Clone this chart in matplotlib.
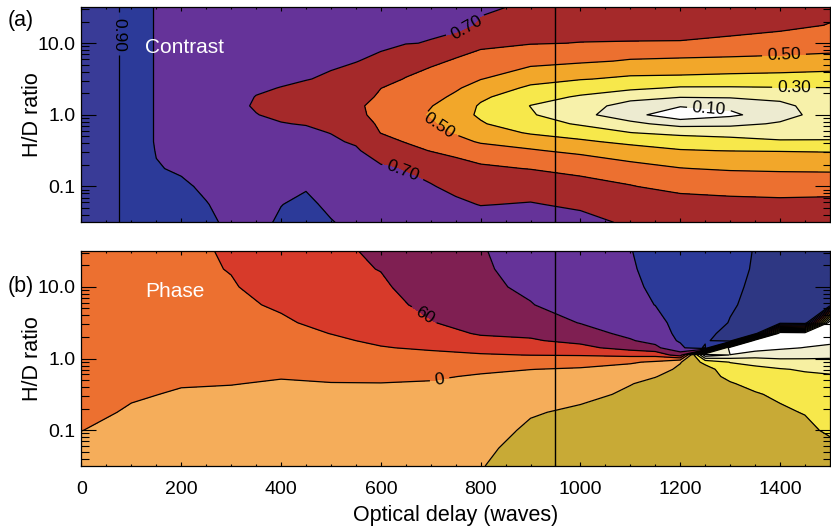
import numpy as np
import matplotlib.pyplot as plt
from matplotlib.ticker import MultipleLocator, LogLocator, FuncFormatter, NullFormatter

plt.rcParams['font.family'] = ['Liberation Sans', 'DejaVu Sans']
plt.rcParams['contour.negative_linestyle'] = 'solid'

# ---- panel (a): fringe contrast ----
# grid columns = optical delay (waves), rows = log10(H/D ratio)
delay_a = [0, 50, 100, 150, 200, 250, 300, 350, 400, 450, 500, 550, 600, 650,
           700, 750, 800, 900, 1000, 1100, 1200, 1300, 1400, 1500]
logratio_a = [-1.5, -1.25, -1.0, -0.75, -0.5, -0.375, -0.25, -0.125, 0.0,
              0.125, 0.25, 0.375, 0.5, 0.75, 1.0, 1.25, 1.5]
# one list per delay column, bottom (low ratio) to top
contrast_cols = [
    [0.95] * 17,
    [0.92] * 17,
    [0.88] * 17,
    [0.82, 0.815, 0.81, 0.805, 0.795, 0.79, 0.79, 0.79, 0.79, 0.79, 0.79, 0.79, 0.79, 0.79, 0.79, 0.79, 0.79],
    [0.82, 0.815, 0.81, 0.79, 0.78, 0.78, 0.78, 0.78, 0.78, 0.78, 0.78, 0.78, 0.78, 0.78, 0.78, 0.78, 0.78],
    [0.81, 0.802, 0.79, 0.78, 0.77, 0.765, 0.76, 0.755, 0.75, 0.75, 0.75, 0.755, 0.76, 0.77, 0.775, 0.78, 0.78],
    [0.79, 0.785, 0.775, 0.76, 0.75, 0.745, 0.74, 0.73, 0.725, 0.72, 0.725, 0.73, 0.74, 0.75, 0.76, 0.765, 0.77],
    [0.79, 0.785, 0.775, 0.76, 0.745, 0.738, 0.73, 0.72, 0.702, 0.693, 0.698, 0.71, 0.725, 0.74, 0.75, 0.76, 0.765],
    [0.805, 0.799, 0.79, 0.77, 0.745, 0.735, 0.72, 0.703, 0.686, 0.667, 0.68, 0.698, 0.715, 0.735, 0.75, 0.76, 0.765],
    [0.82, 0.81, 0.795, 0.77, 0.745, 0.73, 0.715, 0.696, 0.675, 0.656, 0.665, 0.685, 0.703, 0.725, 0.74, 0.75, 0.755],
    [0.802, 0.79, 0.775, 0.755, 0.735, 0.712, 0.698, 0.68, 0.66, 0.645, 0.655, 0.672, 0.69, 0.715, 0.73, 0.74, 0.745],
    [0.79, 0.78, 0.765, 0.74, 0.71, 0.69, 0.666, 0.64, 0.618, 0.612, 0.63, 0.648, 0.668, 0.703, 0.72, 0.735, 0.74],
    [0.77, 0.75, 0.73, 0.71, 0.658, 0.628, 0.598, 0.587, 0.577, 0.578, 0.589, 0.601, 0.628, 0.678, 0.725, 0.735, 0.75],
    [0.76, 0.74, 0.715, 0.695, 0.624, 0.596, 0.578, 0.558, 0.535, 0.543, 0.562, 0.578, 0.596, 0.65, 0.703, 0.725, 0.74],
    [0.75, 0.73, 0.707, 0.655, 0.597, 0.565, 0.535, 0.51, 0.49, 0.504, 0.526, 0.548, 0.57, 0.62, 0.697, 0.715, 0.73],
    [0.74, 0.715, 0.675, 0.625, 0.58, 0.53, 0.49, 0.465, 0.435, 0.453, 0.485, 0.512, 0.538, 0.59, 0.667, 0.73, 0.74],
    [0.73, 0.697, 0.655, 0.615, 0.54, 0.49, 0.45, 0.408, 0.387, 0.39, 0.418, 0.46, 0.503, 0.565, 0.625, 0.685, 0.72],
    [0.72, 0.705, 0.655, 0.597, 0.51, 0.45, 0.39, 0.345, 0.31, 0.298, 0.335, 0.383, 0.437, 0.535, 0.605, 0.65, 0.68],
    [0.72, 0.686, 0.633, 0.568, 0.475, 0.415, 0.352, 0.288, 0.228, 0.245, 0.29, 0.348, 0.405, 0.515, 0.598, 0.64, 0.67],
    [0.69, 0.645, 0.605, 0.53, 0.436, 0.378, 0.302, 0.222, 0.14, 0.16, 0.237, 0.32, 0.385, 0.492, 0.596, 0.64, 0.665],
    [0.68, 0.635, 0.57, 0.503, 0.405, 0.36, 0.27, 0.165, 0.02, 0.11, 0.205, 0.29, 0.382, 0.485, 0.595, 0.64, 0.665],
    [0.67, 0.625, 0.56, 0.49, 0.398, 0.335, 0.26, 0.175, 0.08, 0.125, 0.21, 0.29, 0.375, 0.48, 0.585, 0.63, 0.66],
    [0.665, 0.62, 0.555, 0.485, 0.395, 0.31, 0.255, 0.21, 0.16, 0.175, 0.228, 0.295, 0.37, 0.475, 0.57, 0.62, 0.65],
    [0.66, 0.625, 0.555, 0.482, 0.39, 0.305, 0.28, 0.265, 0.25, 0.255, 0.272, 0.298, 0.36, 0.47, 0.55, 0.597, 0.625],
]
contrast_levels = [0.0, 0.1, 0.2, 0.3, 0.4, 0.5, 0.6, 0.7, 0.8, 0.9, 1.0]
contrast_labelled = [0.1, 0.3, 0.5, 0.7, 0.9]
contrast_plain = [0.2, 0.4, 0.6, 0.8]
contrast_colors = ['#ffffff', '#edebd1', '#f7f1aa', '#f7e84b', '#f2a72a',
                   '#ec7030', '#a5292a', '#653399', '#2c3a99', '#393b97']

# ---- panel (b): fringe phase (degrees) ----
delay_b = [0, 100, 200, 300, 400, 500, 600, 700, 800, 900, 1000, 1100, 1150,
           1200, 1250, 1300, 1350, 1400, 1450, 1500]
logratio_b = [-1.5, -1.25, -1.0, -0.75, -0.5, -0.35, -0.25, -0.15, -0.05,
              0.05, 0.15, 0.25, 0.35, 0.5, 0.75, 1.0, 1.25, 1.5]
phase_cols = [
    [-10, -5, 0.3, 5, 9, 11, 12, 13, 14, 15, 16, 17, 18, 19, 21, 23, 25, 27],
    [-15, -11, -6, -2, 2.5, 5.5, 7.5, 9, 10.5, 12, 13.5, 15, 16, 17.5, 20, 22.5, 24, 25.5],
    [-18, -14, -10, -6, -2, 1.5, 4, 6, 8, 10, 12, 14, 15.5, 17.5, 20.5, 23, 24.5, 26],
    [-20, -16, -12, -7.5, -2.5, 0.5, 3, 5.5, 8, 10.5, 13, 15, 17, 20, 24.5, 28.5, 31, 32],
    [-22, -18, -13, -8, -4, -1.5, 1, 4.5, 8, 11.5, 15, 18.5, 22, 27, 33.5, 38, 41.5, 44],
    [-22, -18, -14, -9, -4.5, -0.6, 3.5, 8, 12.5, 17, 21.5, 26, 30.4, 36, 43, 48, 52, 55],
    [-22, -18, -14, -9, -4.5, -0.5, 5, 11, 17, 23, 28.8, 34, 38, 43, 50, 56, 61, 64],
    [-22, -18, -14, -9.5, -5, -1.8, 3, 10, 17.5, 25.5, 33, 40, 47.5, 58.5, 68, 74, 78, 81],
    [-29, -26, -22, -17, -10, -6, -2.5, 5, 15, 28, 40, 52, 63, 72, 80, 84, 86.5, 88],
    [-40, -37, -33, -28, -18, -11, -6, 0.3, 15, 30.5, 44, 57, 66, 76, 89, 95, 99, 102],
    [-48, -45, -41, -34, -23, -15, -9, -2.5, 10, 32, 52, 68, 80, 91, 101, 106, 110, 113],
    [-52, -50, -47, -42, -34, -29, -20, -9, 3, 38, 72, 88, 96, 103, 110, 114, 117, 119],
    [-54, -52, -50, -46, -40, -36, -29, -16, -4, 40, 84, 98, 104, 110, 120.5, 125, 128, 130],
    [-56, -55, -53, -50, -46, -43, -40, -36, -28, 75, 112, 124, 128, 131, 133, 134, 135, 135],
    [-56, -55, -54, -53, -52, -51, -50, -48, -68, -170, 155, 145, 142, 140, 138, 138, 138, 138],
    [-56, -56, -56, -55, -55, -58, -66, -78, -91, -149, -175, 170, 160, 151, 147, 145, 143, 142.5],
    [-56, -56, -56, -56, -58, -67, -74, -82, -100, -135, -165, -178, 172, 163, 157, 154, 152, 151],
    [-55, -55, -55, -57, -64, -77, -82, -88, -110, -133, -155, -170, -178, 170, 164, 160, 158, 156],
    [-55, -55, -56, -61, -74, -80, -85, -93, -112, -130, -149, -163, -172, 177, 170, 165, 162, 160],
    [-54, -56, -63, -72, -79, -83, -87, -97, -112, -128, -145, -156, -168, -176, 174, 169, 166, 164],
]
phase_levels = [-180, -150, -120, -90, -60, -30, 0, 30, 60, 90, 120, 150, 180]
phase_labelled = [0, 60]
phase_plain = [-150, -120, -90, -60, -30, 30, 90, 120, 150]
phase_colors = ['#ffffff', '#f1eecf', '#f7f0a2', '#f7e84b', '#c8aa36', '#f5ad5a',
                '#ec7030', '#d73a2a', '#7f1f52', '#653399', '#2c3a99', '#2e3783']

marker_delay = 950

fig = plt.figure(figsize=(8.31, 5.28), dpi=100)
ax1 = fig.add_axes([0.098, 0.579, 0.9007, 0.407])
ax2 = fig.add_axes([0.098, 0.1174, 0.9007, 0.407])


def style(ax):
    ax.set_yscale('log')
    ax.set_xlim(0, 1500)
    ax.set_ylim(10 ** -1.5, 10 ** 1.5)
    ax.xaxis.set_major_locator(MultipleLocator(200))
    ax.xaxis.set_minor_locator(MultipleLocator(50))
    ax.yaxis.set_major_locator(LogLocator(base=10, numticks=10))
    ax.yaxis.set_minor_locator(LogLocator(base=10, subs=np.arange(2, 10), numticks=10))
    ax.yaxis.set_major_formatter(FuncFormatter(lambda v, p: f'{v:.1f}'))
    ax.yaxis.set_minor_formatter(NullFormatter())
    ax.tick_params(which='both', direction='in', top=True, right=True, width=0.8)
    ax.tick_params(axis='y', which='major', length=10.8, pad=4.5, labelsize=14)
    ax.tick_params(axis='y', which='minor', length=5.4)
    ax.tick_params(axis='x', which='major', length=3.2, pad=11, labelsize=14)
    ax.tick_params(axis='x', which='minor', length=1.6)
    for s in ax.spines.values():
        s.set_linewidth(0.9)
    ax.set_ylabel('H/D ratio', fontsize=15.5)
    ax.yaxis.set_label_coords(-0.052, 0.5)


style(ax1)
style(ax2)

# panel (a)
X, Y = np.meshgrid(delay_a, 10.0 ** np.array(logratio_a))
Z = np.array(contrast_cols).T
ax1.contourf(X, Y, Z, levels=contrast_levels, colors=contrast_colors)
ax1.contour(X, Y, Z, levels=contrast_plain, colors='k', linewidths=0.9)
cs1 = ax1.contour(X, Y, Z, levels=contrast_labelled, colors='k', linewidths=0.9)
ax1.clabel(cs1, fmt='%.2f', fontsize=12.5, inline=True,
           manual=[(76, 10 ** 1.12), (774, 10 ** 1.18), (642, 10 ** -0.83), (714, 10 ** -0.18),
                   (1408, 10 ** 0.83), (1428, 10 ** 0.375), (1258, 10 ** 0.125)])
ax1.axvline(marker_delay, color='k', lw=1.0)
ax1.tick_params(labelbottom=False)
ax1.text(0.085, 0.815, 'Contrast', color='white', fontsize=15, transform=ax1.transAxes,
         ha='left', va='center')

# panel (b)
X, Y = np.meshgrid(delay_b, 10.0 ** np.array(logratio_b))
Z = np.array(phase_cols).T
ax2.contourf(X, Y, Z, levels=phase_levels, colors=phase_colors)
ax2.contour(X, Y, Z, levels=phase_plain, colors='k', linewidths=0.9)
cs2 = ax2.contour(X, Y, Z, levels=phase_labelled, colors='k', linewidths=0.9)
ax2.clabel(cs2, fmt=lambda v: f'{v:.0f}', fontsize=12.5, inline=True,
           manual=[(688, 10 ** 0.62), (718, 10 ** -0.30)])
ax2.axvline(marker_delay, color='k', lw=1.0)
ax2.set_xlabel('Optical delay (waves)', fontsize=15.5, labelpad=5)
ax2.text(0.085, 0.81, 'Phase', color='white', fontsize=15, transform=ax2.transAxes,
         ha='left', va='center')

fig.text(7.5 / 831, 1 - 20.5 / 528, '(a)', fontsize=15.5, va='center', ha='left')
fig.text(7.5 / 831, 1 - 286.5 / 528, '(b)', fontsize=15.5, va='center', ha='left')

fig.savefig('out.png', dpi=100)
